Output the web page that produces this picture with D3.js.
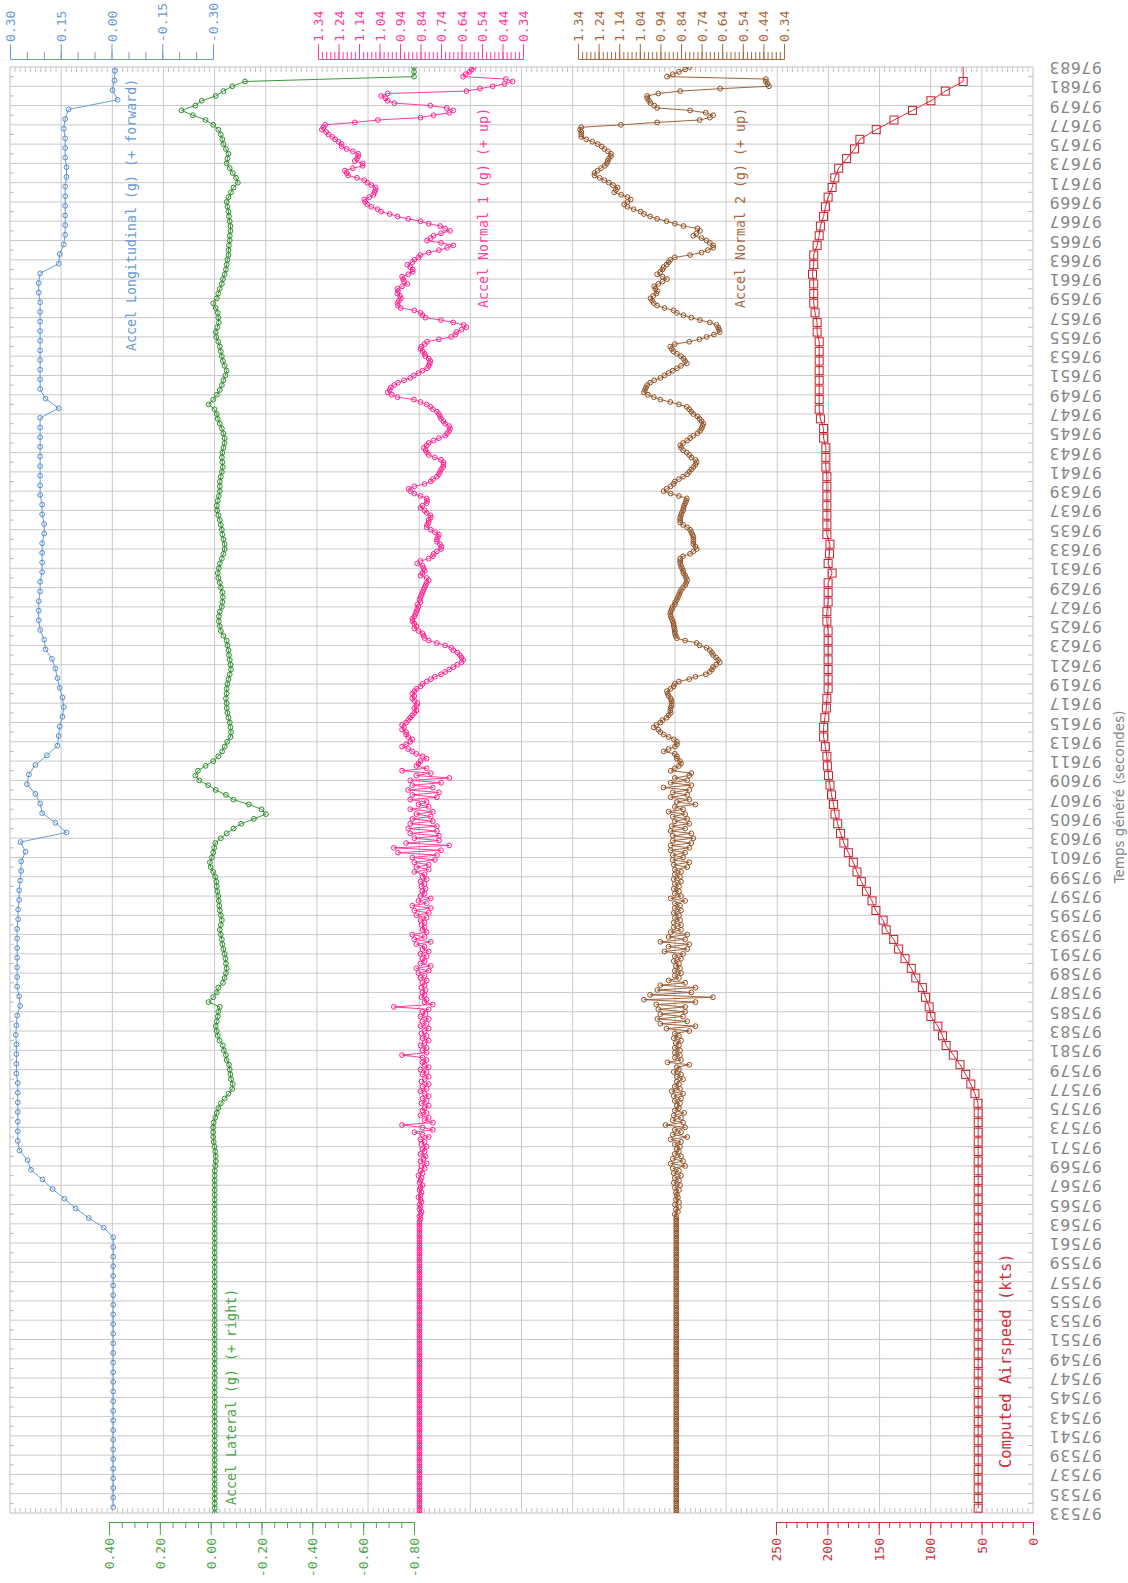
<!DOCTYPE html>
<html>
<head>
<meta charset="utf-8">
<script src="https://cdn.jsdelivr.net/npm/d3@7"></script>
<style>
  body { margin: 0; background: #fff; }
  svg { display: block; }
</style>
</head>
<body>
<svg id="chart" width="1128" height="1583"></svg>
<script>
// Flight record, time on the vertical axis (seconds), one column per parameter

// Accel Longitudinal (g): one sample per second starting at longStart
const longStart = 97533.6;
const longitudinal = [
  -0.005, -0.005, -0.005, -0.005, -0.005, -0.005, -0.005, -0.005, -0.005, -0.005,
  -0.005, -0.005, -0.005, -0.005, -0.005, -0.005, -0.005, -0.005, -0.005, -0.005,
  -0.005, -0.005, -0.005, -0.005, -0.005, -0.005, -0.005, -0.005, -0.005, 0.023,
  0.067, 0.106, 0.139, 0.174, 0.204, 0.238, 0.248, 0.272, 0.277, 0.277,
  0.277, 0.277, 0.277, 0.277, 0.277, 0.281, 0.281, 0.281, 0.281, 0.283,
  0.281, 0.279, 0.270, 0.273, 0.279, 0.279, 0.279, 0.279, 0.279, 0.279,
  0.279, 0.276, 0.276, 0.273, 0.273, 0.270, 0.267, 0.267, 0.254, 0.269,
  0.133, 0.166, 0.205, 0.211, 0.225, 0.250, 0.244, 0.225, 0.191, 0.160,
  0.156, 0.153, 0.145, 0.141, 0.145, 0.153, 0.160, 0.166, 0.176, 0.195,
  0.199, 0.211, 0.215, 0.215, 0.215, 0.211, 0.211, 0.205, 0.205, 0.205,
  0.205, 0.199, 0.199, 0.205, 0.205, 0.211, 0.211, 0.211, 0.211, 0.211,
  0.211, 0.211, 0.211, 0.211, 0.156, 0.195, 0.211, 0.211, 0.211, 0.211,
  0.211, 0.211, 0.211, 0.211, 0.211, 0.211, 0.215, 0.215, 0.211, 0.156,
  0.153, 0.141, 0.137, 0.137, 0.137, 0.137, 0.137, 0.137, 0.133, 0.133,
  0.137, 0.137, 0.137, 0.141, 0.137, 0.127, -0.018, -0.003, -0.009, -0.010
];

// Computed Airspeed (kts): one sample per second starting at airStart
const airStart = 97533.5;
const airspeed = [
  53.3, 53.3, 53.3, 53.3, 53.3, 53.3, 53.3, 53.3, 53.3, 53.3,
  53.3, 53.3, 53.3, 53.3, 53.3, 53.3, 53.3, 53.3, 53.3, 53.3,
  53.3, 53.3, 53.3, 53.3, 53.3, 53.3, 53.3, 53.3, 53.3, 53.3,
  53.3, 53.3, 53.3, 53.3, 53.3, 53.3, 53.3, 53.3, 53.3, 53.3,
  53.3, 53.3, 53.5, 56.5, 60.5, 65.5, 71, 77.5, 84.5, 88,
  92.5, 99.3, 101, 104.5, 107.6, 114, 118.4, 124.5, 130.7, 135.5,
  142.8, 145.8, 152.8, 156.6, 162, 167, 171.2, 174.8, 179.6, 184,
  187.2, 190, 192.6, 194, 196, 197.5, 199, 200, 200.5, 202,
  203.7, 203.7, 202.5, 201, 200.5, 199.3, 199.3, 199.3, 199.3, 199.3,
  199.3, 199.3, 200.5, 200.5, 199.3, 199.3, 199.3, 195.4, 199.3, 198,
  197.5, 200.5, 200.5, 200.5, 200.5, 200.5, 200.5, 200.5, 201.5, 201.5,
  201.5, 203.7, 203.7, 206.8, 208, 208, 208, 208, 208, 208,
  208, 208, 210, 210, 212, 213.3, 213.3, 213.3, 214.5, 213.3,
  213.3, 210, 208, 206.8, 203.7, 201.8, 199.3, 195.4, 192.8, 189,
  181.3, 173.6, 168.4, 152.5, 135.2, 117.2, 99.3, 85.3, 67.9
];

// the recorded traces run on past the top of the page
const traceEnd = 97685;

// Accel Lateral (g): [second, value at +0.0 s, value at +0.5 s]
const lateralRows = [
  [97533,-.016,-.016],[97534,-.016,-.016],[97535,-.016,-.016],[97536,-.016,-.016],[97537,-.016,-.016],[97538,-.016,-.016],
  [97539,-.016,-.016],[97540,-.016,-.016],[97541,-.016,-.016],[97542,-.016,-.016],[97543,-.016,-.016],[97544,-.016,-.016],
  [97545,-.016,-.016],[97546,-.016,-.016],[97547,-.016,-.016],[97548,-.016,-.016],[97549,-.016,-.016],[97550,-.016,-.016],
  [97551,-.016,-.016],[97552,-.016,-.016],[97553,-.016,-.016],[97554,-.016,-.016],[97555,-.016,-.016],[97556,-.016,-.016],
  [97557,-.016,-.016],[97558,-.016,-.016],[97559,-.016,-.016],[97560,-.016,-.016],[97561,-.016,-.016],[97562,-.016,-.016],
  [97563,-.016,-.016],[97564,-.016,-.016],[97565,-.016,-.016],[97566,-.016,-.016],[97567,-.016,-.016],[97568,-.016,-.016],
  [97569,-.018,-.02],[97570,-.02,-.018],[97571,-.015,-.012],[97572,-.01,-.01],[97573,-.01,-.012],[97574,-.018,-.024],
  [97575,-.03,-.04],[97576,-.055,-.07],[97577,-.085,-.087],[97578,-.08,-.078],[97579,-.075,-.072],[97580,-.063,-.06],
  [97581,-.052,-.048],[97582,-.035,-.028],[97583,-.024,-.02],[97584,-.024,-.028],[97585,-.03,-.036],[97586,.008,-.01],
  [97587,-.024,-.03],[97588,-.048,-.055],[97589,-.06,-.063],[97590,-.06,-.058],[97591,-.055,-.05],[97592,-.046,-.044],
  [97593,-.04,-.036],[97594,-.04,-.044],[97595,-.04,-.036],[97596,-.034,-.032],[97597,-.03,-.026],[97598,-.024,-.022],
  [97599,-.018,-.01],[97600,0,.003],[97601,-.005,-.01],[97602,-.014,-.018],[97603,-.04,-.063],[97604,-.09,-.12],
  [97605,-.17,-.217],[97606,-.2,-.15],[97607,-.09,-.06],[97608,-.02,.01],[97609,.045,.06],[97610,.05,.02],
  [97611,-.01,-.03],[97612,-.045,-.055],[97613,-.065,-.078],[97614,-.08,-.078],[97615,-.075,-.07],[97616,-.066,-.063],
  [97617,-.063,-.06],[97618,-.063,-.063],[97619,-.066,-.07],[97620,-.075,-.08],[97621,-.078,-.075],[97622,-.072,-.07],
  [97623,-.066,-.063],[97624,-.05,-.04],[97625,-.036,-.032],[97626,-.032,-.036],[97627,-.044,-.046],[97628,-.048,-.046],
  [97629,-.04,-.036],[97630,-.03,-.028],[97631,-.032,-.036],[97632,-.044,-.05],[97633,-.055,-.055],[97634,-.05,-.046],
  [97635,-.044,-.04],[97636,-.036,-.03],[97637,-.026,-.024],[97638,-.028,-.032],[97639,-.036,-.036],[97640,-.036,-.04],
  [97641,-.044,-.048],[97642,-.046,-.044],[97643,-.046,-.05],[97644,-.055,-.055],[97645,-.05,-.044],[97646,-.036,-.028],
  [97647,-.024,-.015],[97648,.008,-.01],[97649,-.024,-.036],[97650,-.044,-.05],[97651,-.058,-.063],[97652,-.055,-.048],
  [97653,-.044,-.04],[97654,-.036,-.03],[97655,-.022,-.02],[97656,-.026,-.032],[97657,-.03,-.028],[97658,-.02,-.01],
  [97659,-.024,-.03],[97660,-.036,-.044],[97661,-.048,-.055],[97662,-.06,-.063],[97663,-.066,-.07],[97664,-.07,-.072],
  [97665,-.075,-.075],[97666,-.078,-.078],[97667,-.075,-.072],[97668,-.07,-.066],[97669,-.063,-.07],[97670,-.08,-.09],
  [97671,-.107,-.1],[97672,-.087,-.075],[97673,-.063,-.066],[97674,-.07,-.06],[97675,-.05,-.046],[97676,-.04,-.03],
  [97677,-.01,.02],[97678,.07,.115],[97679,.06,.035],[97680,-.02,-.05],[97681,-.085,-.135],[97682,-.8,-.8],
  [97683,-.8]
];

// Accel Normal 1 (g): [second, values every 0.25 s]
const normal1Rows = [
  [97533,.845,.845,.845,.845],[97534,.845,.845,.845,.845],[97535,.845,.845,.845,.845],[97536,.845,.845,.845,.845],
  [97537,.845,.845,.845,.845],[97538,.845,.845,.845,.845],[97539,.845,.845,.845,.845],[97540,.845,.845,.845,.845],
  [97541,.845,.845,.845,.845],[97542,.845,.845,.845,.845],[97543,.845,.845,.845,.845],[97544,.845,.845,.845,.845],
  [97545,.845,.845,.845,.845],[97546,.845,.845,.845,.845],[97547,.845,.845,.845,.845],[97548,.845,.845,.845,.845],
  [97549,.845,.845,.845,.845],[97550,.845,.845,.845,.845],[97551,.845,.845,.845,.845],[97552,.845,.845,.845,.845],
  [97553,.845,.845,.845,.845],[97554,.845,.845,.845,.845],[97555,.845,.845,.845,.845],[97556,.845,.845,.845,.845],
  [97557,.845,.845,.845,.845],[97558,.845,.845,.845,.845],[97559,.845,.845,.845,.845],[97560,.845,.845,.845,.845],
  [97561,.845,.845,.845,.845],[97562,.845,.845,.845,.845],
  [97563,.845,.845,.84,.845],[97564,.84,.835,.845,.84],[97565,.845,.835,.84,.85],[97566,.84,.835,.845,.84],
  [97567,.83,.845,.84,.835],[97568,.85,.83,.84,.82],[97569,.835,.81,.84,.825],[97570,.815,.84,.82,.83],
  [97571,.81,.835,.82,.84],[97572,.80,.83,.87,.78],[97573,.83,.93,.78,.82],[97574,.80,.84,.81,.83],
  [97575,.82,.80,.835,.81],[97576,.83,.80,.82,.84],[97577,.81,.83,.80,.835],[97578,.82,.80,.83,.81],
  [97579,.84,.80,.82,.83],[97580,.81,.83,.93,.81],[97581,.83,.81,.84,.82],[97582,.80,.83,.81,.835],
  [97583,.82,.80,.84,.81],[97584,.83,.80,.84,.815],[97585,.83,.80,.97,.78],[97586,.82,.81,.835,.82],
  [97587,.83,.815,.835,.82],[97588,.83,.81,.84,.82],[97589,.85,.80,.86,.79],[97590,.84,.82,.83,.81],
  [97591,.84,.80,.83,.82],[97592,.86,.79,.87,.82],[97593,.88,.81,.83,.82],[97594,.835,.82,.84,.81],
  [97595,.86,.80,.87,.79],[97596,.88,.81,.85,.79],[97597,.84,.82,.83,.815],[97598,.835,.82,.84,.81],
  [97599,.83,.82,.87,.80],[97600,.86,.80,.87,.77],[97601,.88,.76,.95,.74],[97602,.97,.70,.91,.75],
  [97603,.87,.75,.89,.76],[97604,.90,.76,.89,.78],[97605,.88,.79,.86,.78],[97606,.89,.80,.85,.81],
  [97607,.89,.76,.88,.75],[97608,.90,.78,.88,.74],[97609,.89,.70,.86,.79],[97610,.93,.81,.86,.85],
  [97611,.84,.81,.83,.86],[97612,.88,.90,.93,.91],[97613,.89,.88,.90,.91],[97614,.91,.93,.92,.93],
  [97615,.91,.90,.89,.88],[97616,.87,.86,.87,.86],[97617,.855,.87,.88,.87],[97618,.88,.87,.86,.84],
  [97619,.83,.81,.79,.77],[97620,.74,.72,.70,.68],[97621,.66,.64,.632,.64],[97622,.648,.66,.68,.69],
  [97623,.72,.76,.80,.82],[97624,.825,.83,.85,.87],[97625,.86,.87,.878,.88],[97626,.87,.865,.86,.856],
  [97627,.85,.855,.84,.845],[97628,.84,.835,.83,.825],[97629,.82,.815,.81,.80],[97630,.81,.84,.83,.82],
  [97631,.825,.83,.856,.84],[97632,.80,.78,.776,.76],[97633,.74,.738,.745,.76],[97634,.76,.755,.75,.77],
  [97635,.79,.81,.808,.80],[97636,.80,.79,.792,.81],[97637,.82,.84,.83,.81],[97638,.808,.81,.84,.87],
  [97639,.89,.898,.87,.82],[97640,.79,.78,.76,.75],[97641,.745,.74,.73,.728],[97642,.728,.74,.77,.80],
  [97643,.808,.815,.824,.81],[97644,.80,.776,.75,.72],[97645,.71,.70,.696,.70],[97646,.72,.728,.74,.745],
  [97647,.75,.76,.78,.792],[97648,.81,.84,.872,.952],[97649,.98,1.0,.99,.985],[97650,.968,.95,.92,.89],
  [97651,.872,.85,.83,.808],[97652,.80,.795,.792,.80],[97653,.816,.82,.83,.84],[97654,.835,.82,.808,.75],
  [97655,.69,.67,.664,.64],[97656,.616,.63,.68,.74],[97657,.816,.83,.84,.87],[97658,.936,.95,.952,.945],
  [97659,.936,.94,.952,.95],[97660,.952,.93,.904,.92],[97661,.925,.93,.90,.878],[97662,.878,.89,.904,.88],
  [97663,.87,.85,.84,.80],[97664,.75,.71,.68,.74],[97665,.808,.79,.776,.74],[97666,.696,.72,.744,.80],
  [97667,.84,.90,.952,.99],[97668,1.032,1.05,1.08,1.10],[97669,1.11,1.114,1.09,1.07],[97670,1.064,1.06,1.058,1.08],
  [97671,1.10,1.114,1.15,1.193],[97672,1.20,1.209,1.17,1.122],[97673,1.122,1.16,1.15,1.144],[97674,1.144,1.17,1.20,1.225],
  [97675,1.225,1.24,1.257,1.27],[97676,1.289,1.30,1.321,1.313],[97677,1.305,1.16,1.048,.84],[97678,.776,.70,.68,.712],
  [97679,.792,.968,1.0,1.01],[97680,1.032,1.0,.616,.55],[97681,.488,.43,.391,.424],[97682,.632,.62,.60,.59],
  [97683,.58]
];

// Accel Normal 2 (g): [second, values every 0.25 s]
const normal2Rows = [
  [97533,.863,.863,.863,.863],[97534,.863,.863,.863,.863],[97535,.863,.863,.863,.863],[97536,.863,.863,.863,.863],
  [97537,.863,.863,.863,.863],[97538,.863,.863,.863,.863],[97539,.863,.863,.863,.863],[97540,.863,.863,.863,.863],
  [97541,.863,.863,.863,.863],[97542,.863,.863,.863,.863],[97543,.863,.863,.863,.863],[97544,.863,.863,.863,.863],
  [97545,.863,.863,.863,.863],[97546,.863,.863,.863,.863],[97547,.863,.863,.863,.863],[97548,.863,.863,.863,.863],
  [97549,.863,.863,.863,.863],[97550,.863,.863,.863,.863],[97551,.863,.863,.863,.863],[97552,.863,.863,.863,.863],
  [97553,.863,.863,.863,.863],[97554,.863,.863,.863,.863],[97555,.863,.863,.863,.863],[97556,.863,.863,.863,.863],
  [97557,.863,.863,.863,.863],[97558,.863,.863,.863,.863],[97559,.863,.863,.863,.863],[97560,.863,.863,.863,.863],
  [97561,.863,.863,.863,.863],[97562,.863,.863,.863,.863],[97563,.863,.863,.863,.863],
  [97564,.87,.855,.865,.85],[97565,.87,.85,.865,.855],[97566,.86,.865,.85,.87],[97567,.845,.875,.85,.87],
  [97568,.84,.875,.85,.88],[97569,.82,.89,.83,.88],[97570,.84,.87,.85,.86],[97571,.845,.87,.84,.89],
  [97572,.81,.88,.84,.87],[97573,.82,.915,.83,.88],[97574,.84,.875,.825,.87],[97575,.85,.86,.845,.87],
  [97576,.84,.875,.83,.885],[97577,.845,.87,.85,.86],[97578,.83,.86,.84,.875],[97579,.85,.86,.80,.905],
  [97580,.84,.87,.845,.87],[97581,.845,.87,.85,.865],[97582,.84,.875,.85,.87],[97583,.80,.91,.77,.94],
  [97584,.81,.955,.83,.94],[97585,.82,.95,.82,.96],[97586,.77,1.02,.685,.99],[97587,.79,.955,.77,.94],
  [97588,.82,.90,.85,.87],[97589,.84,.87,.845,.865],[97590,.85,.875,.84,.87],[97591,.83,.92,.81,.90],
  [97592,.80,.94,.82,.90],[97593,.81,.89,.84,.875],[97594,.84,.875,.845,.87],[97595,.85,.875,.84,.87],
  [97596,.845,.87,.82,.89],[97597,.84,.87,.85,.875],[97598,.85,.87,.84,.875],[97599,.845,.87,.84,.87],
  [97600,.81,.875,.80,.88],[97601,.83,.88,.82,.89],[97602,.80,.89,.79,.88],[97603,.78,.88,.79,.89],
  [97604,.82,.885,.80,.87],[97605,.81,.88,.82,.90],[97606,.83,.87,.77,.86],[97607,.80,.89,.81,.88],
  [97608,.80,.925,.79,.89],[97609,.81,.87,.80,.79],[97610,.89,.87,.85,.84],[97611,.845,.86,.86,.87],
  [97612,.924,.90,.87,.86],[97613,.86,.875,.90,.924],[97614,.94,.95,.972,.96],[97615,.94,.93,.91,.90],
  [97616,.89,.892,.89,.886],[97617,.886,.886,.89,.90],[97618,.905,.908,.89,.876],[97619,.87,.85,.80,.77],
  [97620,.72,.70,.69,.684],[97621,.67,.652,.66,.67],[97622,.684,.69,.70,.716],[97623,.75,.764,.82,.86],
  [97624,.865,.87,.87,.872],[97625,.875,.876,.88,.885],[97626,.89,.892,.89,.885],[97627,.88,.87,.868,.86],
  [97628,.855,.85,.845,.84],[97629,.83,.82,.815,.81],[97630,.815,.82,.828,.83],[97631,.835,.84,.844,.844],
  [97632,.844,.83,.796,.78],[97633,.764,.77,.78,.78],[97634,.78,.78,.785,.79],[97635,.796,.81,.83,.844],
  [97636,.844,.844,.84,.836],[97637,.83,.828,.825,.82],[97638,.815,.812,.85,.89],[97639,.924,.91,.89,.876],
  [97640,.87,.85,.83,.81],[97641,.80,.79,.78,.77],[97642,.764,.77,.79,.80],[97643,.812,.83,.84,.844],
  [97644,.83,.81,.796,.78],[97645,.76,.748,.74,.735],[97646,.732,.74,.75,.76],[97647,.78,.79,.80,.812],
  [97648,.85,.892,.94,.972],[97649,1.0,1.02,1.015,1.01],[97650,1.004,.99,.97,.94],[97651,.92,.90,.88,.86],
  [97652,.84,.812,.82,.828],[97653,.84,.86,.876,.885],[97654,.892,.87,.80,.75],[97655,.716,.68,.652,.655],
  [97656,.66,.668,.70,.748],[97657,.79,.828,.86,.876],[97658,.92,.956,.972,.98],[97659,.988,.975,.96,.956],
  [97660,.965,.97,.95,.93],[97661,.908,.93,.956,.94],[97662,.93,.924,.91,.90],[97663,.892,.87,.796,.74],
  [97664,.71,.684,.684,.70],[97665,.716,.74,.78,.765],[97666,.748,.76,.828,.87],[97667,.91,.956,.99,1.02],
  [97668,1.036,1.07,1.10,1.116],[97669,1.10,1.084,1.10,1.13],[97670,1.164,1.156,1.148,1.17],[97671,1.19,1.212,1.235,1.26],
  [97672,1.26,1.245,1.228,1.21],[97673,1.20,1.196,1.19,1.18],[97674,1.18,1.195,1.212,1.225],[97675,1.244,1.27,1.30,1.324],
  [97676,1.324,1.324,1.33,1.324],[97677,1.132,.956,.75,.70],[97678,.684,.72,.796,.956],[97679,.97,.988,.995,1.004],
  [97680,1.004,.95,.844,.65],[97681,.413,.42,.428,.428],[97682,.908,.88,.85,.82],[97683,.80]
];

// Axis ticks
const longTicks = [0.30, 0.15, 0.00, -0.15, -0.30];
const latTicks = [0.40, 0.20, 0.00, -0.20, -0.40, -0.60, -0.80];
const normalTicks = [1.34, 1.24, 1.14, 1.04, 0.94, 0.84, 0.74, 0.64, 0.54, 0.44, 0.34];
const airTicks = [250, 200, 150, 100, 50, 0];
const timeTicks = d3.range(97533, 97684, 2);

const colors = { grid: '#c9c9c9', text: '#858585' };

// ---------- layout ----------
const plotL = 10, plotR = 1033, plotT = 67, plotB = 1513;
const svg = d3.select('#chart');

const y = d3.scaleLinear().domain([97533, 97683]).range([plotB, plotT]);
const xLong = d3.scaleLinear().domain([0.30, -0.30]).range([10, 213]);
const xLat = d3.scaleLinear().domain([0.40, -0.80]).range([109, 414]);
const xN1 = d3.scaleLinear().domain([1.34, 0.34]).range([318, 523]);
const xN2 = d3.scaleLinear().domain([1.34, 0.34]).range([578, 784]);
const xAir = d3.scaleLinear().domain([250, 0]).range([776, 1033]);
const gridX = d3.scaleLinear().domain([0, 20]).range([plotL, plotR]);

function fromRows(rows) {
  const out = [];
  rows.forEach(r => {
    const step = 1 / Math.max(1, r.length - 1);
    for (let j = 1; j < r.length; j++) out.push({ t: r[0] + (j - 1) * step, v: r[j] });
  });
  return out;
}
function fromList(start, list) {
  return list.map((v, i) => ({ t: start + i, v }));
}

// grid
const grid = svg.append('g');
grid.selectAll('line.gv').data(d3.range(1, 20)).enter().append('line')
  .attr('x1', d => gridX(d)).attr('x2', d => gridX(d))
  .attr('y1', plotT).attr('y2', plotB)
  .attr('stroke', colors.grid).attr('stroke-width', 1);
grid.selectAll('line.gh').data(timeTicks.slice(1, -1)).enter().append('line')
  .attr('x1', plotL).attr('x2', plotR)
  .attr('y1', d => y(d)).attr('y2', d => y(d))
  .attr('stroke', colors.grid).attr('stroke-width', 1);

// small ticks on the frame
const edgeTicks = d3.range(1, 200).filter(i => i % 10 !== 0).map(i => gridX(i / 10));
grid.selectAll('line.et').data(edgeTicks).enter().append('line')
  .attr('x1', d => d).attr('x2', d => d).attr('y1', plotT).attr('y2', plotT + 5)
  .attr('stroke', '#c4c4c4');
grid.selectAll('line.eb').data(edgeTicks).enter().append('line')
  .attr('x1', d => d).attr('x2', d => d).attr('y1', plotB - 5).attr('y2', plotB)
  .attr('stroke', '#c4c4c4');
const sideTicks = d3.range(97534, 97683, 2);
grid.selectAll('line.sl').data(sideTicks).enter().append('line')
  .attr('x1', plotL).attr('x2', plotL + 4).attr('y1', d => y(d)).attr('y2', d => y(d))
  .attr('stroke', '#bdbdbd');
grid.selectAll('line.sr').data(sideTicks).enter().append('line')
  .attr('x1', plotR - 5).attr('x2', plotR).attr('y1', d => y(d)).attr('y2', d => y(d))
  .attr('stroke', '#bdbdbd');
grid.append('rect')
  .attr('x', plotL).attr('y', plotT).attr('width', plotR - plotL).attr('height', plotB - plotT)
  .attr('fill', 'none').attr('stroke', '#c2c2c2');

// clip
svg.append('defs').append('clipPath').attr('id', 'plotClip')
  .append('rect').attr('x', plotL).attr('y', plotT).attr('width', plotR - plotL).attr('height', plotB - plotT);
const plot = svg.append('g').attr('clip-path', 'url(#plotClip)');

function drawSeries(data, xs, color, markerColor, shape, runOn) {
  const line = d3.line().x(d => xs(d.v)).y(d => y(d.t));
  const path = runOn ? data.concat([{ t: traceEnd, v: data[data.length - 1].v }]) : data;
  plot.append('path').datum(path)
    .attr('d', line).attr('fill', 'none')
    .attr('stroke', color).attr('stroke-width', 1);
  if (shape === 'square') {
    plot.append('g').selectAll('rect').data(data).enter().append('rect')
      .attr('x', d => xs(d.v) - 4).attr('y', d => y(d.t) - 4)
      .attr('width', 8).attr('height', 8)
      .attr('fill', 'none').attr('stroke', markerColor).attr('stroke-width', 1);
  } else {
    plot.append('g').selectAll('circle').data(data).enter().append('circle')
      .attr('cx', d => xs(d.v)).attr('cy', d => y(d.t)).attr('r', 2.4)
      .attr('fill', 'none').attr('stroke', markerColor).attr('stroke-width', 1);
  }
}

drawSeries(fromList(longStart, longitudinal), xLong, '#6d9dd6', '#5a8cc9', 'circle', true);
drawSeries(fromRows(lateralRows), xLat, '#3a9a3a', '#2d8a2d', 'circle', true);
drawSeries(fromRows(normal1Rows), xN1, '#ff3d9e', '#ff1f8f', 'circle', false);
drawSeries(fromRows(normal2Rows), xN2, '#a2643a', '#8f4f22', 'circle', false);
drawSeries(fromList(airStart, airspeed), xAir, '#d42a38', '#c81e2c', 'square', true);

// ---------- value axes ----------
function valueAxis(scale, ticks, minors, yPos, top, color, fmt, major, minor) {
  const make = top ? d3.axisTop : d3.axisBottom;
  const gMin = svg.append('g').attr('transform', `translate(0,${yPos})`)
    .call(make(scale).tickValues(minors).tickSize(minor).tickSizeOuter(0).tickFormat(''));
  const gMaj = svg.append('g').attr('transform', `translate(0,${yPos})`)
    .call(make(scale).tickValues(ticks).tickSize(major).tickSizeOuter(0).tickFormat(fmt));
  [gMin, gMaj].forEach(g => g.selectAll('path, line').attr('stroke', color));
  gMaj.selectAll('text')
    .attr('fill', color)
    .attr('font-family', '"DejaVu Sans Mono", monospace')
    .attr('font-size', 13)
    .attr('transform', 'rotate(-90)')
    .attr('y', 0)
    .attr('dy', '0.35em')
    .attr('x', top ? major + 2 : -(major + 3))
    .style('text-anchor', top ? 'start' : 'end');
}

const f2 = d => d.toFixed(2);
valueAxis(xLong, longTicks, d3.range(-0.30, 0.3001, 0.05), 59, true, '#6a9bd2', f2, 15, 7);
valueAxis(xN1, normalTicks, d3.range(0.34, 1.3401, 0.02), 59, true, '#ff3d9e', f2, 15, 7);
valueAxis(xN2, normalTicks, d3.range(0.34, 1.3401, 0.02), 59, true, '#a8673c', f2, 15, 7);
valueAxis(xLat, latTicks, d3.range(-0.80, 0.4001, 0.05), 1522, false, '#4aa64a', f2, 13, 6);
valueAxis(xAir, airTicks, d3.range(0, 251, 10), 1522, false, '#d0303c', d => String(d), 13, 6);

// ---------- time labels (upside down, as in the original printout) ----------
svg.append('g').selectAll('text').data(timeTicks).enter().append('text')
  .attr('transform', d => `translate(1049,${y(d)}) rotate(180)`)
  .attr('text-anchor', 'end')
  .attr('dominant-baseline', 'central')
  .attr('font-family', '"DejaVu Sans", sans-serif')
  .attr('font-size', 15.5)
  .attr('letter-spacing', 0.7)
  .attr('fill', colors.text)
  .text(d => d);

svg.append('text')
  .attr('transform', 'translate(1119,797) rotate(-90)')
  .attr('text-anchor', 'middle')
  .attr('dominant-baseline', 'central')
  .attr('font-family', '"DejaVu Sans", sans-serif')
  .attr('font-size', 13.5)
  .attr('fill', colors.text)
  .text('Temps généré (secondes)');

// ---------- series names ----------
const seriesLabels = [
  { text: 'Accel Longitudinal (g) (+ forward)', x: 131, y: 351, size: 13.3, color: '#6a9bd2' },
  { text: 'Accel Lateral (g) (+ right)', x: 231, y: 1505, size: 13.3, color: '#4aa64a' },
  { text: 'Accel Normal 1 (g) (+ up)', x: 483, y: 308, size: 13.3, color: '#ff3d9e' },
  { text: 'Accel Normal 2 (g) (+ up)', x: 740, y: 308, size: 13.3, color: '#a8673c' },
  { text: 'Computed Airspeed (kts)', x: 1006, y: 1468, size: 15.5, color: '#d0303c' }
];
svg.append('g').selectAll('text').data(seriesLabels).enter().append('text')
  .attr('transform', d => `translate(${d.x},${d.y}) rotate(-90)`)
  .attr('text-anchor', 'start')
  .attr('dominant-baseline', 'central')
  .attr('font-family', '"DejaVu Sans Mono", monospace')
  .attr('font-size', d => d.size)
  .attr('fill', d => d.color)
  .text(d => d.text);
</script>
</body>
</html>
